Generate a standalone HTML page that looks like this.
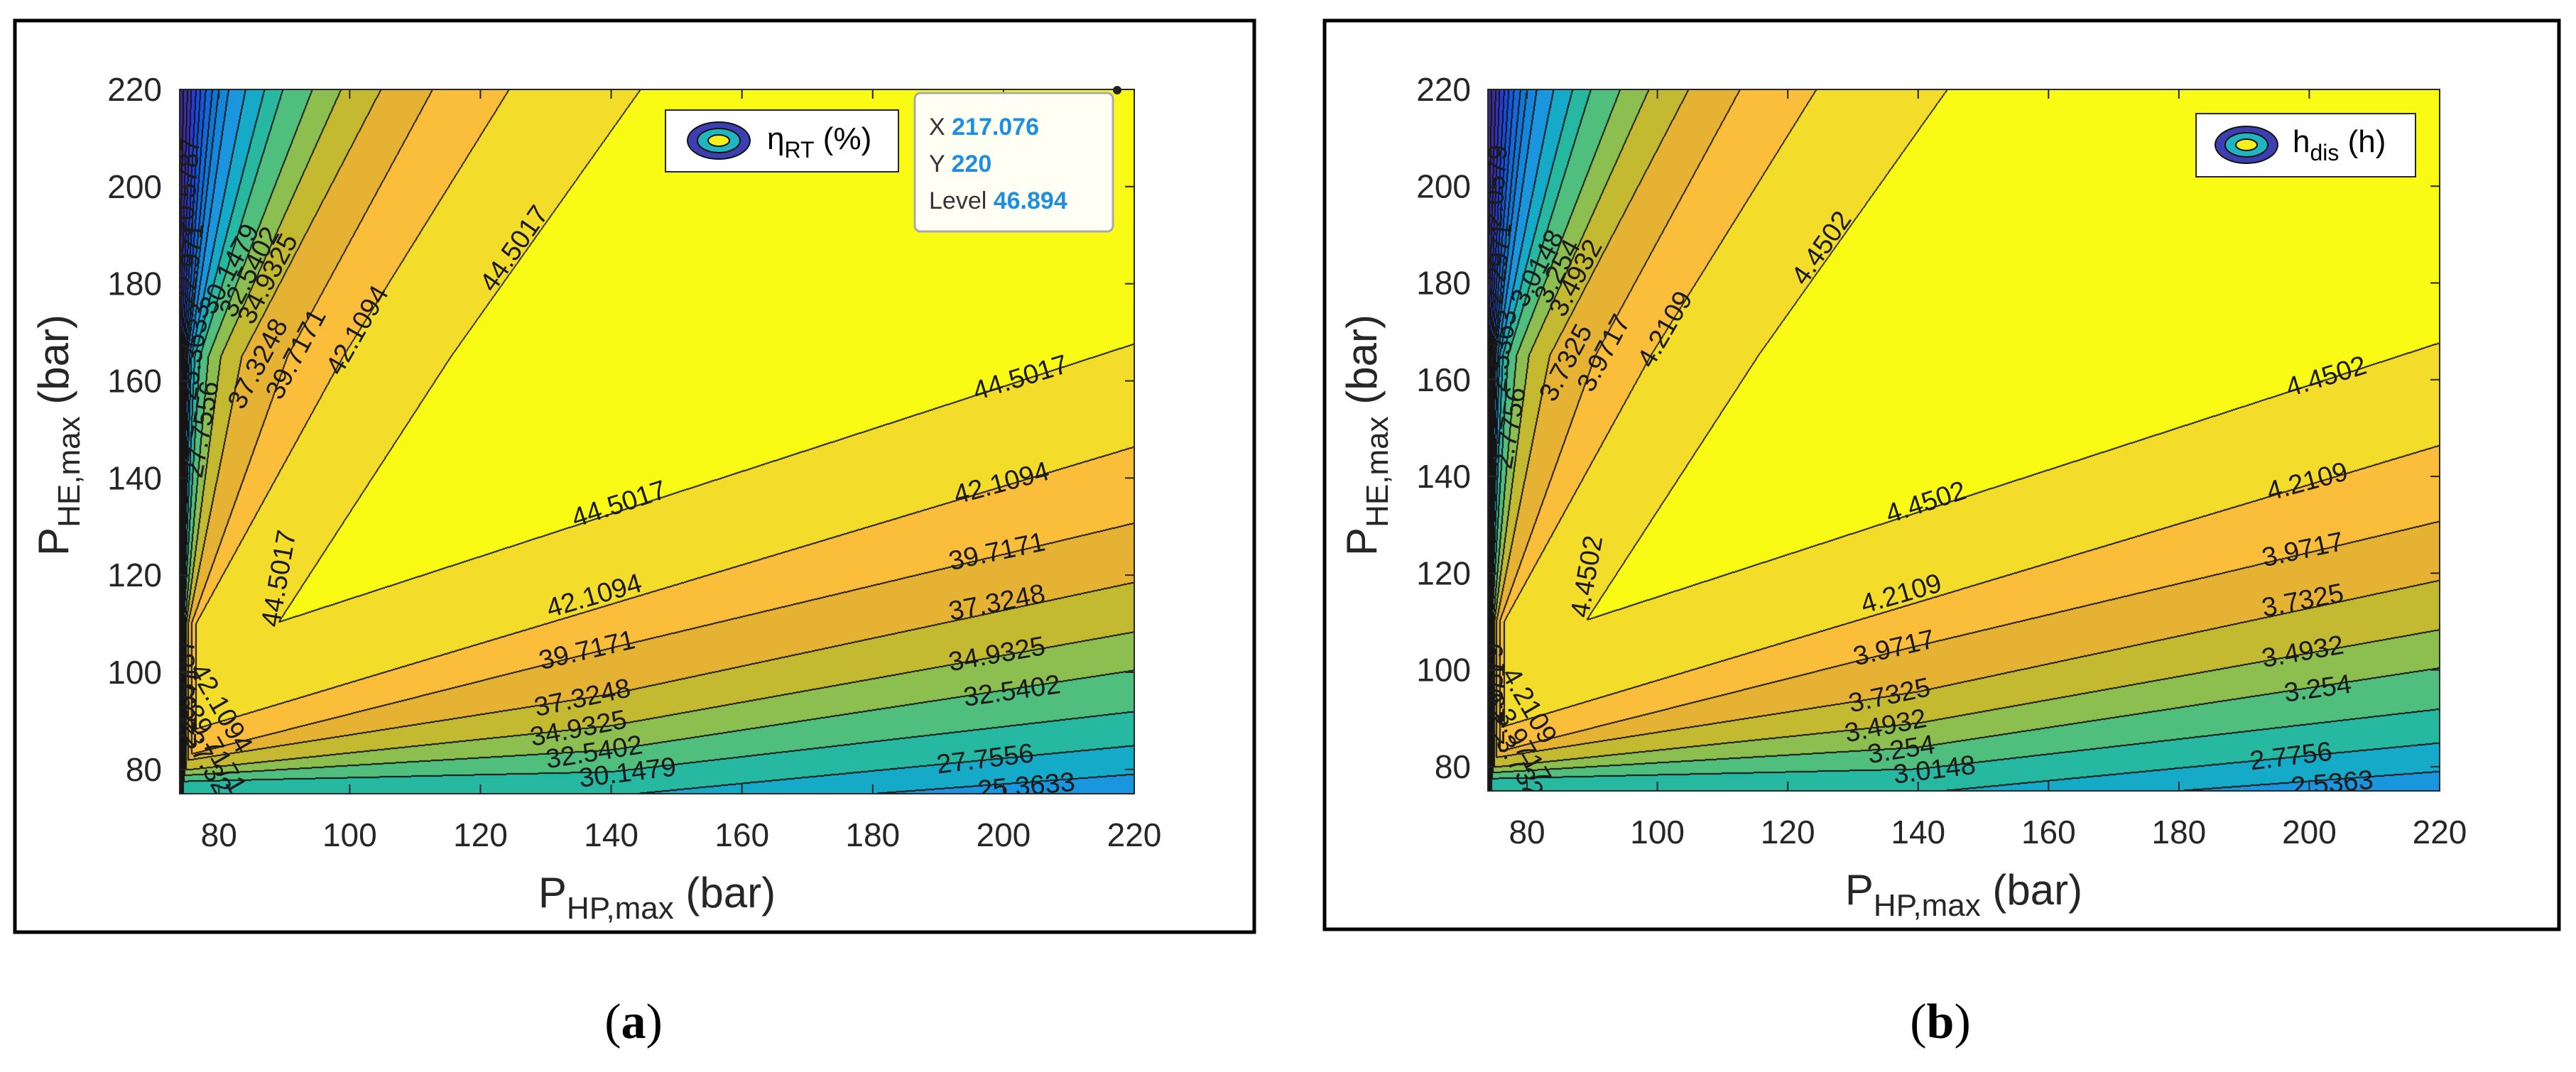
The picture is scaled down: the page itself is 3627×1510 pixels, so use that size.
<!DOCTYPE html>
<html><head><meta charset="utf-8">
<style>
html,body{margin:0;padding:0;background:#fff;}
#root{position:relative;width:3627px;height:1510px;overflow:hidden;background:#fff;}
canvas{position:absolute;}
svg{position:absolute;left:0;top:0;}
</style></head>
<body>
<div id="root">
<canvas id="cA" width="1344" height="992" style="left:253px;top:126px"></canvas>
<canvas id="cB" width="1340" height="988" style="left:2095px;top:126px"></canvas>
<svg id="ov" width="3627" height="1510" xmlns="http://www.w3.org/2000/svg">
  <rect x="21" y="29" width="1745" height="1284" fill="none" stroke="#000" stroke-width="5"/>
  <rect x="1865" y="29" width="1738" height="1280" fill="none" stroke="#000" stroke-width="5"/>
  <defs>
    <clipPath id="clipA"><rect x="253" y="126" width="1344" height="992"/></clipPath>
    <clipPath id="clipB"><rect x="2095" y="126" width="1340" height="988"/></clipPath>
  </defs>
  <g id="gA"></g>
  <g id="gB"></g>
  <text x="925" y="1278" font-family="Liberation Sans, sans-serif" font-size="60" text-anchor="middle" fill="#262626">P<tspan font-size="44" dy="16">HP,max</tspan><tspan dy="-16"> (bar)</tspan></text>
  <text transform="translate(96,613) rotate(-90)" font-family="Liberation Sans, sans-serif" font-size="60" text-anchor="middle" fill="#262626">P<tspan font-size="44" dy="16">HE,max</tspan><tspan dy="-16"> (bar)</tspan></text>
  <text x="2765" y="1274" font-family="Liberation Sans, sans-serif" font-size="60" text-anchor="middle" fill="#262626">P<tspan font-size="44" dy="16">HP,max</tspan><tspan dy="-16"> (bar)</tspan></text>
  <text transform="translate(1938,613) rotate(-90)" font-family="Liberation Sans, sans-serif" font-size="60" text-anchor="middle" fill="#262626">P<tspan font-size="44" dy="16">HE,max</tspan><tspan dy="-16"> (bar)</tspan></text>
  <text x="892" y="1462" font-family="Liberation Serif, serif" font-size="70" text-anchor="middle" fill="#000">(<tspan font-weight="bold">a</tspan>)</text>
  <text x="2732" y="1462" font-family="Liberation Serif, serif" font-size="70" text-anchor="middle" fill="#000">(<tspan font-weight="bold">b</tspan>)</text>
  <g>
    <rect x="937" y="155" width="328" height="87" fill="#fff" stroke="#262626" stroke-width="2"/>
    <ellipse cx="1012" cy="198" rx="44" ry="26" fill="#3b3fb0" stroke="#111" stroke-width="2"/>
    <ellipse cx="1012" cy="198" rx="30" ry="17" fill="#20b5c0" stroke="#111" stroke-width="2"/>
    <ellipse cx="1012" cy="198" rx="15" ry="8" fill="#f5f01e" stroke="#111" stroke-width="2"/>
    <text x="1080" y="210" font-family="Liberation Sans, sans-serif" font-size="44" fill="#000">η<tspan font-size="32" dy="12">RT</tspan><tspan dy="-12"> (%)</tspan></text>
  </g>
  <g>
    <rect x="1288" y="131" width="279" height="195" rx="8" fill="#fff" fill-opacity="0.95" stroke="#aaa" stroke-width="3"/>
    <text x="1308" y="190" font-family="Liberation Sans, sans-serif" font-size="34" fill="#333">X <tspan fill="#1e8fe0" font-weight="bold">217.076</tspan></text>
    <text x="1308" y="242" font-family="Liberation Sans, sans-serif" font-size="34" fill="#333">Y <tspan fill="#1e8fe0" font-weight="bold">220</tspan></text>
    <text x="1308" y="294" font-family="Liberation Sans, sans-serif" font-size="34" fill="#333">Level <tspan fill="#1e8fe0" font-weight="bold">46.894</tspan></text>
    <circle cx="1573" cy="127" r="6" fill="#222"/>
  </g>
  <g>
    <rect x="3092" y="160" width="309" height="89" fill="#fff" stroke="#262626" stroke-width="2"/>
    <ellipse cx="3163" cy="204" rx="44" ry="26" fill="#3b3fb0" stroke="#111" stroke-width="2"/>
    <ellipse cx="3163" cy="204" rx="30" ry="17" fill="#20b5c0" stroke="#111" stroke-width="2"/>
    <ellipse cx="3163" cy="204" rx="15" ry="8" fill="#f5f01e" stroke="#111" stroke-width="2"/>
    <text x="3228" y="214" font-family="Liberation Sans, sans-serif" font-size="44" fill="#000">h<tspan font-size="32" dy="12">dis</tspan><tspan dy="-12"> (h)</tspan></text>
  </g>
</svg>
</div>
<script>
// ---- data ----
const XMIN = 74, XMAX = 220, YMIN = 75, YMAX = 220;
const xTicks = [80, 100, 120, 140, 160, 180, 200, 220];
const yTicks = [80, 100, 120, 140, 160, 180, 200, 220];
const levelLabelsA = ["-0.952","1.4403","3.8326","6.2249","8.6172","11.0095","13.4018","15.7941","18.1864","20.5787","22.971","25.3633","27.7556","30.1479","32.5402","34.9325","37.3248","39.7171","42.1094","44.5017"];
const levelLabelsB = ["-0.095","0.144","0.3833","0.6225","0.8617","1.101","1.3402","1.5794","1.8186","2.0579","2.2971","2.5363","2.7756","3.0148","3.254","3.4932","3.7325","3.9717","4.2109","4.4502"];
// lower branch: y-position of contour levels 10..19 (+ top) at x = 90, 140, 220
const lowerKnotsX = [90, 140, 220];
const lowerAt90  = [62, 68, 72, 78, 80, 82, 85, 88, 93.8, 110.7, 135];
const lowerAt140 = [65, 71, 74.5, 79.5, 84, 89, 95.5, 105, 114, 132.6, 185];
const lowerAt220 = [73.5, 79, 84.9, 91.9, 100.4, 108.3, 118.5, 130.7, 146.4, 167.6, 235];
// upper branch: x-position of contour levels 3..19 (+ top) at y = 110, 165, 220
const upperKnotsY = [110, 165, 220];
const upperAt110 = [73.8,73.9,74,74.05,74.1,74.15,74.2,74.3,74.4,74.5,74.6,74.8,75.0,75.3,75.8,76.5,89,110];
const upperAt165 = [74,74.2,74.4,74.6,74.8,75,75.2,75.5,75.8,76.3,77.1,78.4,80.3,83.5,90.5,99,115.5,150];
const upperAt220 = [75.2,75.8,76.5,77.2,78,79,80,81.5,84.1,87,89.8,94.3,98.7,104.8,112.7,124.4,144.5,210];
// contour labels: [x, y, angle, level index]
const contourLabels = [
 [125.2,187.2,-55,19],[101.2,170.4,-60,18],[91.8,165.5,-62,17],[86,163.5,-62,16],[87.5,181,-62,15],[84.7,182.4,-62,14],[81.6,183,-62,13],
 [89.2,119.3,-80,19],[202.6,160.6,-17,19],[199.7,138.9,-15,18],[199,124.8,-12,17],[199,114.3,-11,16],[199,103.7,-10,15],[201.3,96.1,-8,14],
 [197.2,82.1,-7,12],[203.5,76.5,-5,11],[141.2,134.6,-18,19],[137.4,115.7,-16,18],[136.3,104.5,-13,17],[135.6,94.7,-12,16],[135,88.4,-11,15],
 [137.4,83.5,-9,14],[142.5,79.3,-7,13],[80.3,92.6,60,18],[79.4,84.1,60,17],[79.4,78.6,60,16],
 [77.4,150,-80,12],[76.2,166,-82,11],[75.6,184,-84,10],[75.2,200,-86,9],[74.9,97,-90,9],[75.2,93,-90,10]
];
const bandColors = [
 [53,42,135],[55,42,145],[60,45,165],[55,50,190],[40,60,215],[25,75,225],[15,90,225],[18,105,220],[15,120,215],[18,135,220],
 [25,150,222],[20,170,200],[38,184,160],[80,190,125],[140,190,80],[195,186,50],[230,178,52],[250,190,58],[244,220,42],[249,251,20]
];

const panels = [
 {id:'A', canvas:'cA', g:'gA', clip:'clipA', ox:253, oy:126, w:1344, h:992, labels:levelLabelsA, tickRight:228},
 {id:'B', canvas:'cB', g:'gB', clip:'clipB', ox:2095, oy:126, w:1340, h:988, labels:levelLabelsB, tickRight:2071}
];

function xs(p, v){ return p.ox + (v - XMIN) / (XMAX - XMIN) * p.w; }
function ys(p, v){ return p.oy + p.h - (v - YMIN) / (YMAX - YMIN) * p.h; }

function interp3(t, knots, a, b, c, i){
  if (t <= knots[1]) return a[i] + (t - knots[0]) * (b[i] - a[i]) / (knots[1] - knots[0]);
  return b[i] + (t - knots[1]) * (c[i] - b[i]) / (knots[2] - knots[1]);
}
function idxOf(p, v, base){
  if (v < p[0]) return base - (p[0] - v) / Math.max(p[1] - p[0], 0.3);
  for (let i = 0; i < p.length - 1; i++){
    if (v < p[i+1]) return base + i + (v - p[i]) / Math.max(p[i+1] - p[i], 1e-6);
  }
  return base + p.length - 1;
}

function renderPanel(p){
  const cv = document.getElementById(p.canvas);
  const ctx = cv.getContext('2d');
  const W = p.w, H = p.h;
  const img = ctx.createImageData(W, H);
  const band = new Uint8Array(W * H);
  const lowCols = [], upRows = [];
  for (let px = 0; px < W; px++){
    const xd = XMIN + (px + 0.5) / W * (XMAX - XMIN);
    const arr = [];
    for (let i = 0; i < lowerAt90.length; i++) arr.push(interp3(xd, lowerKnotsX, lowerAt90, lowerAt140, lowerAt220, i));
    lowCols.push(arr);
  }
  for (let py = 0; py < H; py++){
    let yd = YMAX - (py + 0.5) / H * (YMAX - YMIN);
    if (yd < 110) yd = 110;
    const arr = [];
    for (let i = 0; i < upperAt110.length; i++) arr.push(interp3(yd, upperKnotsY, upperAt110, upperAt165, upperAt220, i));
    upRows.push(arr);
  }
  for (let py = 0; py < H; py++){
    const yd = YMAX - (py + 0.5) / H * (YMAX - YMIN);
    const up = upRows[py];
    for (let px = 0; px < W; px++){
      const xd = XMIN + (px + 0.5) / W * (XMAX - XMIN);
      const lo = idxOf(lowCols[px], yd, 10);
      const uu = idxOf(up, xd, 3);
      let f = Math.min(lo, uu);
      let b = Math.floor(f);
      if (b < 0) b = 0; if (b > 19) b = 19;
      band[py * W + px] = b;
    }
  }
  const d = img.data;
  for (let i = 0; i < W * H; i++){
    const c = bandColors[band[i]];
    d[i*4] = c[0]; d[i*4+1] = c[1]; d[i*4+2] = c[2]; d[i*4+3] = 255;
  }
  function blk(i){ d[i*4] = 20; d[i*4+1] = 20; d[i*4+2] = 20; }
  for (let py = 0; py < H; py++){
    for (let px = 0; px < W; px++){
      const i = py * W + px;
      if (px < W - 1 && band[i] !== band[i+1]){ blk(i); blk(i+1); }
      if (py < H - 1 && band[i] !== band[i+W]){ blk(i); blk(i+W); }
    }
  }
  ctx.putImageData(img, 0, 0);

  const NS = 'http://www.w3.org/2000/svg';
  const g = document.getElementById(p.g);
  const lab = document.createElementNS(NS, 'g');
  lab.setAttribute('clip-path', 'url(#' + p.clip + ')');
  
  
  g.appendChild(lab);
  contourLabels.forEach(L => {
    const t = document.createElementNS(NS, 'text');
    const X = xs(p, L[0]), Y = ys(p, L[1]);
    t.setAttribute('transform', 'translate(' + X.toFixed(1) + ',' + Y.toFixed(1) + ') rotate(' + L[2] + ')');
    t.setAttribute('text-anchor', 'middle');
    t.setAttribute('dominant-baseline', 'central');
    t.setAttribute('font-family', 'Liberation Sans, sans-serif');
    t.setAttribute('font-size', '38');
    t.setAttribute('fill', '#1a1a1a');
    t.textContent = p.labels[L[3]];
    
    
    lab.appendChild(t);
  });
  const box = document.createElementNS(NS, 'rect');
  box.setAttribute('x', p.ox); box.setAttribute('y', p.oy);
  box.setAttribute('width', p.w); box.setAttribute('height', p.h);
  box.setAttribute('fill', 'none'); box.setAttribute('stroke', '#262626'); box.setAttribute('stroke-width', '2');
  
  
  g.appendChild(box);
  xTicks.forEach(v => {
    const X = xs(p, v);
    [[p.oy + p.h, p.oy + p.h - 13], [p.oy, p.oy + 13]].forEach(s => {
      const l = document.createElementNS(NS, 'line');
      l.setAttribute('x1', X); l.setAttribute('x2', X); l.setAttribute('y1', s[0]); l.setAttribute('y2', s[1]);
      l.setAttribute('stroke', '#262626'); l.setAttribute('stroke-width', '2');
      
      
      g.appendChild(l);
    });
    const t = document.createElementNS(NS, 'text');
    t.setAttribute('x', X); t.setAttribute('y', p.oy + p.h + 74);
    t.setAttribute('text-anchor', 'middle');
    t.setAttribute('font-family', 'Liberation Sans, sans-serif');
    t.setAttribute('font-size', '46'); t.setAttribute('fill', '#262626');
    t.textContent = v;
    
    
    g.appendChild(t);
  });
  yTicks.forEach(v => {
    const Y = ys(p, v);
    [[p.ox, p.ox + 13], [p.ox + p.w, p.ox + p.w - 13]].forEach(s => {
      const l = document.createElementNS(NS, 'line');
      l.setAttribute('x1', s[0]); l.setAttribute('x2', s[1]); l.setAttribute('y1', Y); l.setAttribute('y2', Y);
      l.setAttribute('stroke', '#262626'); l.setAttribute('stroke-width', '2');
      
      
      g.appendChild(l);
    });
    const t = document.createElementNS(NS, 'text');
    t.setAttribute('x', p.tickRight); t.setAttribute('y', Y + 16);
    t.setAttribute('text-anchor', 'end');
    t.setAttribute('font-family', 'Liberation Sans, sans-serif');
    t.setAttribute('font-size', '46'); t.setAttribute('fill', '#262626');
    t.textContent = v;
    
    
    g.appendChild(t);
  });
}
panels.forEach(renderPanel);
</script>
</body></html>
